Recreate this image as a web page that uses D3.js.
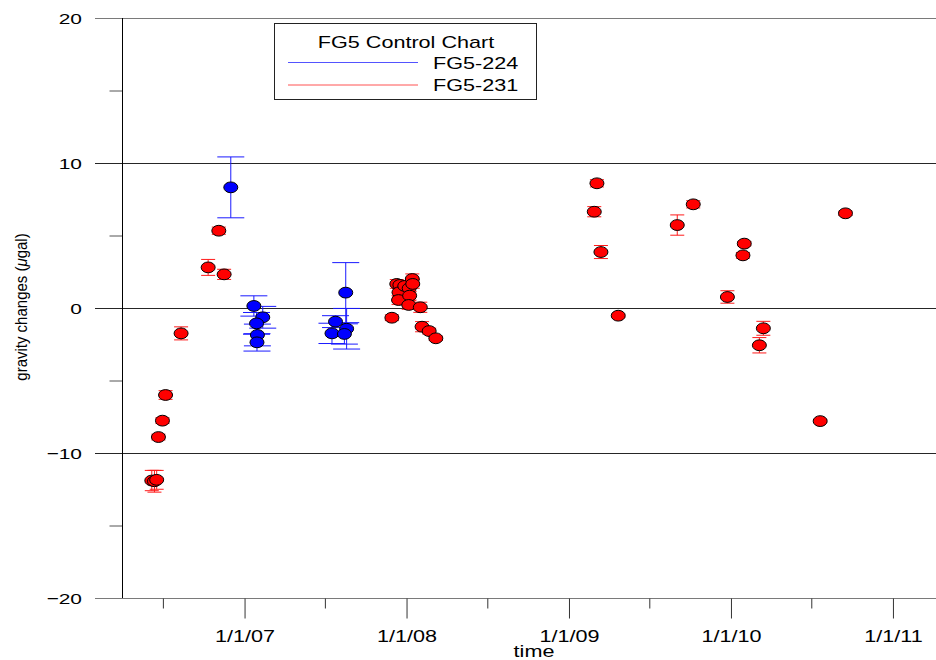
<!DOCTYPE html>
<html>
<head>
<meta charset="utf-8">
<script src="https://cdn.jsdelivr.net/npm/d3@7"></script>
<style>
  html, body { margin: 0; padding: 0; background: #ffffff; }
  svg { display: block; }
  text { font-family: "Liberation Sans", Arial, Helvetica, sans-serif; fill: #000; }
</style>
</head>
<body>
<svg id="chart" width="936" height="660"></svg>
<script>
// FG5 absolute gravimeter control chart: gravity changes (µgal) per campaign, two instruments

// FG5-224 observations
const fg5_224_dates  = ["2006-12-01", "2007-01-22", "2007-02-11", "2007-01-28", "2007-01-30", "2007-01-29",
                        "2007-08-17", "2007-07-25", "2007-08-19", "2007-07-17", "2007-08-14"];
const fg5_224_values = [8.32, 0.14, -0.64, -1.06, -1.86, -2.37,
                        1.06, -0.94, -1.43, -1.75, -1.79];
const fg5_224_errors = [2.1, 0.7, 0.75, 0.75, 0.75, 0.6,
                        2.07, 0.41, 1.4, 0.7, 0.7];

// FG5-231 observations
const fg5_231_dates  = ["2006-06-06", "2006-06-12", "2006-06-17", "2006-06-21", "2006-06-30", "2006-07-07",
                        "2006-08-11", "2006-10-11", "2006-11-04", "2006-11-16",
                        "2007-11-29", "2007-12-10", "2007-12-17", "2007-12-15", "2007-12-14", "2007-12-28",
                        "2008-01-07", "2008-01-08", "2008-01-06", "2008-01-14", "2008-01-15", "2008-02-01",
                        "2008-02-05", "2008-02-21", "2008-03-07",
                        "2009-02-27", "2009-03-05", "2009-03-14", "2009-04-22", "2009-09-02", "2009-10-08",
                        "2009-12-24", "2010-01-28", "2010-01-31", "2010-03-06", "2010-03-15", "2010-07-21",
                        "2010-09-16"];
const fg5_231_values = [-11.9, -11.95, -11.85, -8.9, -7.77, -6.0,
                        -1.75, 2.8, 5.33, 2.32,
                        -0.67, 1.66, 1.59, 1.08, 0.55, 1.52,
                        1.36, 0.85, 0.21, 2.0, 1.66, 0.05,
                        -1.29, -1.59, -2.09,
                        6.64, 8.6, 3.86, -0.53, 5.72, 7.15,
                        0.76, 3.63, 4.44, -2.57, -1.4, -7.8,
                        6.53];
const fg5_231_errors = [0.7, 0.75, 0.65, 0.2, 0.2, 0.3,
                        0.45, 0.55, 0.25, 0.35,
                        0.2, 0.3, 0.3, 0.3, 0.3, 0.3,
                        0.3, 0.3, 0.3, 0.35, 0.3, 0.35,
                        0.35, 0.2, 0.15,
                        0.35, 0.25, 0.45, 0.1, 0.7, 0.25,
                        0.43, 0.2, 0.15, 0.53, 0.48, 0.1,
                        0.15];

// Axis ticks
const yTicksMajor = [-20, -10, 0, 10, 20];
const yTicksMinor = [-15, -5, 5, 15];
const xTicksMajor = ["2007-01-01", "2008-01-01", "2009-01-01", "2010-01-01", "2011-01-01"];
const xTicksMinor = ["2006-07-01", "2007-07-01", "2008-07-01", "2009-07-01", "2010-07-01"];

const chartTitle = "FG5 Control Chart";
const seriesNames = ["FG5-224", "FG5-231"];
const seriesColors = ["#1a1aff", "#ff1a1a"];

const parse = d3.utcParse("%Y-%m-%d");
const SX = 1.35; // horizontal text stretch of this chart style

const svg = d3.select("#chart");
const plotLeft = 122.5, plotRight = 936, plotTop = 18, plotBottom = 598;

const x = d3.scaleUtc()
  .domain([parse("2006-04-01"), parse("2011-04-08")])
  .range([plotLeft, plotRight]);
const y = d3.scaleLinear().domain([-20, 20]).range([plotBottom, plotTop]);

// horizontal grid lines at major values (extending left as the major ticks)
svg.append("g").selectAll("line").data(yTicksMajor).join("line")
  .attr("x1", 95).attr("x2", plotRight)
  .attr("y1", d => y(d) + 0.5).attr("y2", d => y(d) + 0.5)
  .attr("stroke", d => Math.abs(d) === 20 ? "#7a7a7a" : "#262626")
  .attr("stroke-width", 1);

// left axis: minor ticks
const yMinorAxis = d3.axisLeft(y).tickValues(yTicksMinor).tickSize(13).tickFormat("");
const gyMinor = svg.append("g").attr("transform", `translate(${plotLeft},0)`).call(yMinorAxis);
gyMinor.select(".domain").remove();
gyMinor.selectAll(".tick line").attr("stroke", "#555");

// left axis: major tick labels
const yMajorAxis = d3.axisLeft(y).tickValues(yTicksMajor).tickSize(0).tickPadding(0).tickFormat(d3.format("d"));
const gyMajor = svg.append("g").attr("transform", `translate(82,0)`).call(yMajorAxis);
gyMajor.select(".domain").remove();
gyMajor.selectAll(".tick line").remove();
gyMajor.selectAll(".tick text")
  .attr("x", 0).attr("dy", null).attr("y", 5.5)
  .attr("transform", `scale(${SX},1)`)
  .attr("font-size", 15.5).attr("font-family", null).attr("fill", "#000");

// vertical axis line
svg.append("line")
  .attr("x1", plotLeft).attr("x2", plotLeft).attr("y1", plotTop).attr("y2", plotBottom)
  .attr("stroke", "#000").attr("stroke-width", 1);

// bottom axis: minor ticks at mid-year
const xMinorAxis = d3.axisBottom(x).tickValues(xTicksMinor.map(parse)).tickSize(10).tickFormat("");
const gxMinor = svg.append("g").attr("transform", `translate(0,${plotBottom + 0.5})`).call(xMinorAxis);
gxMinor.select(".domain").remove();
gxMinor.selectAll(".tick line").attr("stroke", "#333");

// bottom axis: yearly major ticks with labels
const xMajorAxis = d3.axisBottom(x).tickValues(xTicksMajor.map(parse))
  .tickSize(20).tickPadding(12).tickFormat(d3.utcFormat("%-m/%-d/%y"));
const gxMajor = svg.append("g").attr("transform", `translate(0,${plotBottom + 0.5})`).call(xMajorAxis);
gxMajor.select(".domain").remove();
gxMajor.selectAll(".tick line").attr("stroke", "#333");
gxMajor.selectAll(".tick text")
  .attr("transform", `scale(${SX},1)`)
  .attr("font-size", 16).attr("font-family", null).attr("fill", "#000");

// axis titles
svg.append("text")
  .attr("transform", `translate(534,657) scale(${SX},1)`)
  .attr("text-anchor", "middle").attr("font-size", 16)
  .text("time");

const yTitle = svg.append("text")
  .attr("transform", `translate(27,307) scale(1.15,1) rotate(-90)`)
  .attr("text-anchor", "middle").attr("font-size", 15);
yTitle.append("tspan").text("gravity changes (");
yTitle.append("tspan").attr("font-style", "italic").text("\u03bc");
yTitle.append("tspan").text("gal)");

// error bars and symbols for each instrument
function drawSeries(dates, values, errors, color, fill, capHalf) {
  const pts = dates.map((d, i) => ({ t: parse(d), v: values[i], e: errors[i] }));
  const g = svg.append("g");
  const eb = g.append("g").attr("stroke", color).attr("stroke-width", 1).attr("fill", "none");
  pts.forEach(p => {
    const cx = x(p.t);
    eb.append("line").attr("x1", cx).attr("x2", cx).attr("y1", y(p.v - p.e)).attr("y2", y(p.v + p.e));
    eb.append("line").attr("x1", cx - capHalf).attr("x2", cx + capHalf).attr("y1", y(p.v + p.e)).attr("y2", y(p.v + p.e));
    eb.append("line").attr("x1", cx - capHalf).attr("x2", cx + capHalf).attr("y1", y(p.v - p.e)).attr("y2", y(p.v - p.e));
  });
  g.append("g").selectAll("ellipse").data(pts).join("ellipse")
    .attr("cx", p => x(p.t)).attr("cy", p => y(p.v))
    .attr("rx", 7).attr("ry", 5.4)
    .attr("fill", fill)
    .attr("stroke", "#000").attr("stroke-width", 1);
}

drawSeries(fg5_231_dates, fg5_231_values, fg5_231_errors, seriesColors[1], "#ff0000", 7);
drawSeries(fg5_224_dates, fg5_224_values, fg5_224_errors, seriesColors[0], "#0000ff", 13.5);

// legend
const lg = svg.append("g");
lg.append("rect").attr("x", 274.5).attr("y", 23.5).attr("width", 262).attr("height", 76)
  .attr("fill", "#fff").attr("stroke", "#222").attr("stroke-width", 1);
lg.append("text").attr("transform", `translate(406,48) scale(${SX},1)`)
  .attr("text-anchor", "middle").attr("font-size", 16).text(chartTitle);
seriesNames.forEach((name, i) => {
  const ly = 62.5 + i * 22.5;
  lg.append("line").attr("x1", 288).attr("x2", 418).attr("y1", ly).attr("y2", ly)
    .attr("stroke", seriesColors[i]).attr("stroke-width", 1).attr("stroke-opacity", 0.75);
  lg.append("text").attr("transform", `translate(433,${ly + 6}) scale(${SX},1)`)
    .attr("font-size", 16).text(name);
});
</script>
</body>
</html>
